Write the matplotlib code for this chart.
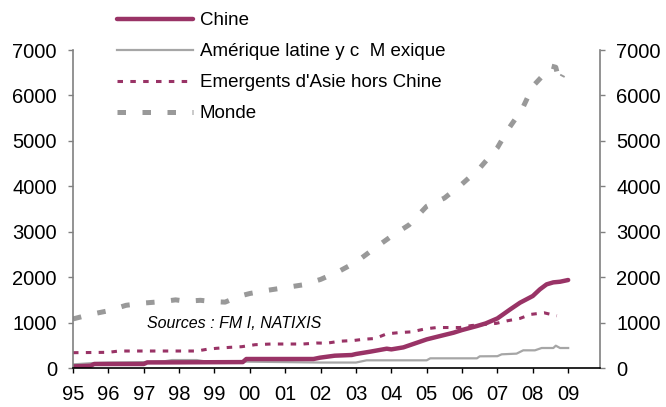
import matplotlib.pyplot as plt

plt.rcParams['font.family'] = ['Liberation Sans', 'DejaVu Sans']

# values (years, stock in bn USD)
chine_x = [1995.0, 1995.5, 1995.6, 1997.0, 1997.1, 1997.5, 1999.8, 1999.9, 2001.8,
           2001.98, 2002.4, 2002.88, 2003.0, 2003.4, 2003.87, 2004.0, 2004.34, 2004.81,
           2005.0, 2005.38, 2005.76, 2006.0, 2006.42, 2006.67, 2007.0, 2007.36, 2007.64,
           2008.0, 2008.2, 2008.39, 2008.58, 2008.77, 2009.0]
chine_y = [35, 50, 88, 88, 123, 123, 130, 198, 198,
           227, 271, 286, 308, 359, 425, 410, 454, 579,
           630, 704, 777, 836, 924, 982, 1092, 1290, 1438,
           1585, 1731, 1841, 1885, 1899, 1937]

amlat_x = [1995.0, 1995.6, 1996.0, 1997.0, 1997.6, 1997.8, 1998.5, 1998.7, 1999.9, 2001.0,
           2002.0, 2003.0, 2003.3, 2005.0, 2005.1, 2006.42, 2006.5, 2007.0, 2007.12,
           2007.54, 2007.73, 2008.06, 2008.25, 2008.58, 2008.65, 2008.77, 2009.0]
amlat_y = [80, 110, 120, 130, 150, 175, 175, 150, 140, 130,
           120, 120, 169, 169, 213, 213, 257, 260, 301,
           316, 389, 389, 440, 440, 491, 440, 440]

asie_x = [1995.0, 1996.0, 1996.3, 1998.5, 1998.78, 1999.05, 1999.44, 1999.77, 2000.15,
          2000.6, 2001.5, 2001.9, 2002.17, 2002.55, 2002.93, 2003.23, 2003.54, 2003.87,
          2004.25, 2004.58, 2004.96, 2005.29, 2005.6, 2005.94, 2006.27, 2006.97, 2007.29,
          2007.64, 2007.94, 2008.32, 2008.68]
asie_y = [337, 345, 374, 374, 411, 433, 455, 469, 513,
          528, 528, 550, 546, 590, 605, 634, 649, 752,
          781, 796, 862, 891, 891, 891, 935, 983, 1041,
          1092, 1180, 1215, 1149]

monde_x = [1995.0, 1995.5, 1996.0, 1996.5, 1997.0, 1997.5, 1997.9, 1998.2, 1998.6, 1999.0,
           1999.3, 1999.7, 2000.0, 2000.5, 2001.0, 2001.5, 2002.0, 2002.5, 2003.0, 2003.5,
           2004.0, 2004.5, 2005.0, 2005.5, 2006.0, 2006.5, 2007.0, 2007.3, 2007.7, 2008.0,
           2008.3, 2008.5, 2008.65, 2008.75, 2008.85]
monde_y = [1080, 1180, 1260, 1380, 1430, 1460, 1500, 1470, 1490, 1460,
           1450, 1580, 1640, 1710, 1770, 1830, 1950, 2120, 2330, 2620,
           2900, 3150, 3560, 3740, 4050, 4400, 4850, 5250, 5700, 6200,
           6450, 6650, 6620, 6300, 6450]

years = list(range(1995, 2010))
year_labels = [str(y)[2:] for y in years]

plum = '#993366'
grey_lat = '#a6a6a6'
grey_monde = '#999999'

fig = plt.figure(figsize=(6.66, 4.07), dpi=100)
ax = fig.add_axes([73 / 666, 39 / 407, 527 / 666, 318 / 407])

l_monde, = ax.plot(monde_x, monde_y, color=grey_monde, lw=3.6, dashes=(1.7, 3.3),
                   dash_capstyle='butt', label='Monde')
l_lat, = ax.plot(amlat_x, amlat_y, color=grey_lat, lw=1.6, label='Amérique latine y c  M exique')
l_asie, = ax.plot(asie_x, asie_y, color=plum, lw=2.2, dashes=(1.8, 2.4),
                  dash_capstyle='butt', label="Emergents d'Asie hors Chine")
l_chine, = ax.plot(chine_x, chine_y, color=plum, lw=3.2, solid_capstyle='round', label='Chine')

ax.set_xlim(1995, 2009.9)
ax.set_ylim(0, 7000)
ax.set_xticks(years)
ax.set_xticklabels(year_labels)
ax.set_yticks(range(0, 7001, 1000))

ax.spines['top'].set_visible(False)
ax.spines['left'].set_color('#808080')
ax.spines['right'].set_color('#808080')
ax.spines['bottom'].set_color('black')
for s in ['left', 'right', 'bottom']:
    ax.spines[s].set_linewidth(1.2)

ax.tick_params(axis='y', which='both', left=True, right=True, labelleft=True, labelright=True,
               direction='out', length=3.6, width=1, color='#808080', pad=8, labelsize=14.5)
ax.tick_params(axis='x', direction='out', length=3.6, width=1, color='black', pad=9,
               labelsize=14.5)

ax.text(0.14, 0.14, 'Sources : FM I, NATIXIS', transform=ax.transAxes, fontsize=11.5,
        style='italic', va='center', ha='left')

fig.legend(handles=[l_chine, l_lat, l_asie, l_monde], loc='upper left',
           bbox_to_anchor=(117 / 666, 0.97), frameon=False, fontsize=13.5,
           handlelength=4.05, handletextpad=0.37, labelspacing=0.74,
           borderpad=0, borderaxespad=0)

fig.savefig('out.png', dpi=100)
